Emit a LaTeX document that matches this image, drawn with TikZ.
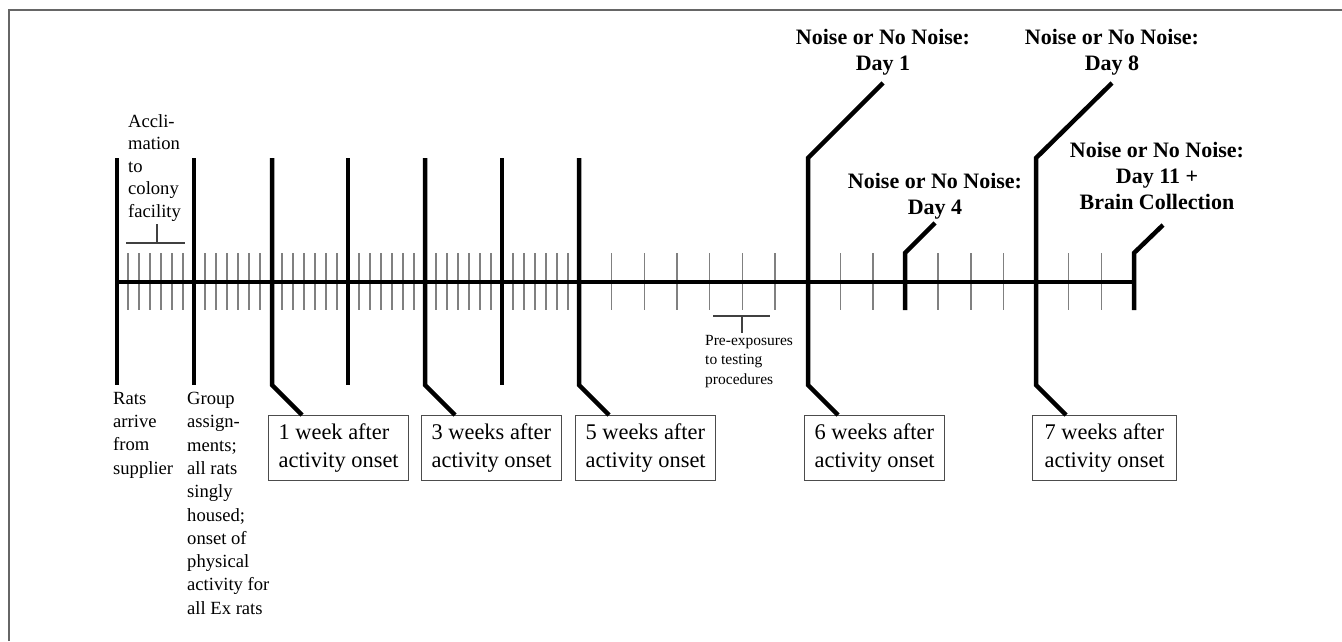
\documentclass[tikz,border=0pt]{standalone}
\usepackage{fontspec}
\setmainfont{Liberation Serif}
\usetikzlibrary{calc}
\newcommand\fntS{\fontsize{18.6pt}{23.3pt}\selectfont}
\newcommand\fntA{\fontsize{18.6pt}{22.5pt}\selectfont}
\newcommand\fntP{\fontsize{15.5pt}{19.5pt}\selectfont}
\newcommand\fntB{\fontsize{22.4pt}{28pt}\selectfont}
\newcommand\fntN{\fontsize{22pt}{26pt}\selectfont\bfseries}
\begin{document}
\begin{tikzpicture}[x=1pt,y=-1pt,
  major/.style={line width=4.5pt, line join=miter, line cap=butt},
  daytick/.style={line width=1.4pt, draw=black!50},
  framestyle/.style={line width=2pt, draw=black!60},
  bracket/.style={line width=1.2pt, draw=black!75},
  small/.style={font=\fntS, align=left, inner sep=0pt, anchor=north west},
  accl/.style={font=\fntA, align=left, inner sep=0pt, anchor=north west},
  tinylab/.style={font=\fntP, align=left, inner sep=0pt, anchor=north west},
  noise/.style={font=\fntN, align=center, inner sep=0pt, anchor=north},
  weekbox/.style={draw=black!70, line width=1.3pt, font=\fntB, align=left,
    inner xsep=0pt, inner ysep=0pt, minimum width=140pt, minimum height=65pt, anchor=north west},
]
\useasboundingbox (0,0) rectangle (1342,641);
% frame
\draw[framestyle] (9,641) -- (9,10) -- (1342,10);

% day ticks
\foreach \i in {1,...,41} {
  \pgfmathtruncatemacro\r{mod(\i,7)}
  \ifnum\r=0\else
    \draw[daytick] ({117+11*\i},253) -- ({117+11*\i},310);
  \fi
}
\foreach \j in {1,2,3,4,5,6,8,9,11,12,13,15,16} {
  \draw[daytick] ({579+32.65*\j},253) -- ({579+32.65*\j},310);
}

% boxes
\node[weekbox] (b1) at (268,415) {1 week after\\activity onset};
\node[weekbox] (b2) at (421,415) {3 weeks after\\activity onset};
\node[weekbox] (b3) at (575,415) {5 weeks after\\activity onset};
\node[weekbox] (b4) at (804,415) {6 weeks after\\activity onset};
\node[weekbox, minimum width=144pt] (b5) at (1032,415) {7 weeks after\\activity onset};

% axis
\draw[major] (117,282) -- (1134,282);

% plain majors
\foreach \x in {117,194,348,502} \draw[major] (\x,158) -- (\x,385);

% majors to boxes
\draw[major] (272,158) -- (272,385) -- ($(b1.north west)+(34,0)$);
\draw[major] (425,158) -- (425,385) -- ($(b2.north west)+(34,0)$);
\draw[major] (579,158) -- (579,385) -- ($(b3.north west)+(34,0)$);

% noise labels
\node[noise] (n1) at (883,29) {Noise or No Noise:\\Day 1};
\node[noise] (n8) at (1112,29) {Noise or No Noise:\\Day 8};
\node[noise] (n4) at (935,173) {Noise or No Noise:\\Day 4};
\node[noise] (n11) at (1157,142) {Noise or No Noise:\\Day 11 +\\Brain Collection};

\coordinate (e1) at (883,83);
\coordinate (e8) at (1112,83);
\coordinate (e4) at (935,223);
\coordinate (e11) at (1163,225);

\draw[major] (e1) -- (808,158) -- (808,385) -- ($(b4.north west)+(34,0)$);
\draw[major] (e8) -- (1036,158) -- (1036,385) -- ($(b5.north west)+(34,0)$);
\draw[major] (e4) -- (905,253) -- (905,310);
\draw[major] (e11) -- (1134,253) -- (1134,310);

% acclimation bracket
\node[accl] (acc) at (128,114) {Accli-\\mation\\to\\colony\\facility};
\draw[bracket] (126,243) -- (185,243);
\draw[bracket] (157,243) -- (157,224);

% pre-exposure bracket
\draw[bracket] (713,316) -- (770,316);
\draw[bracket] (742,316) -- (742,333);
\node[tinylab] (pre) at (705,335) {Pre-exposures\\to testing\\procedures};

% bottom labels
\node[small] (rats) at (113,392) {Rats\\arrive\\from\\supplier};
\node[small] (grp) at (187,392) {Group\\assign-\\ments;\\all rats\\singly\\housed;\\onset of\\physical\\activity for\\all Ex rats};
\end{tikzpicture}
\end{document}
